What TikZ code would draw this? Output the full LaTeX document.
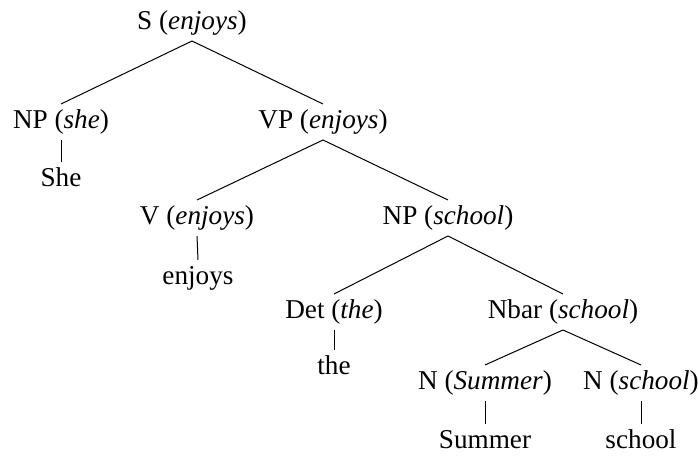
\documentclass[tikz,border=0pt]{standalone}
\usepackage{fontspec}
\setmainfont{Liberation Serif}
\tikzset{
  cat node/.style={inner sep=2pt, text height=10.2pt, text depth=3.4pt,
                   font=\fontsize{13.6}{16}\selectfont},
  word node/.style={cat node},
  branch/.style={line width=0.5pt},
}

\begin{document}
\begin{tikzpicture}[x=0.5pt, y=-0.5pt]
  \useasboundingbox (0,0) rectangle (698,459);
  % categories, with their heads
  \node[cat node] (s) at (192,23) {S (\textit{enjoys})};
  \node[cat node] (np1) at (61,122) {NP (\textit{she})};
  \node[cat node] (vp) at (323,122) {VP (\textit{enjoys})};
  \node[cat node] (v) at (197,218) {V (\textit{enjoys})};
  \node[cat node] (np2) at (448,218) {NP (\textit{school})};
  \node[cat node] (det) at (334,312) {Det (\textit{the})};
  \node[cat node] (nbar) at (563,312) {Nbar (\textit{school})};
  \node[cat node] (n1) at (485,383) {N (\textit{Summer})};
  \node[cat node] (n2) at (641,383) {N (\textit{school})};
  % words
  \node[word node] (w1) at (61,180) {She};
  \node[word node] (w2) at (198,278) {enjoys};
  \node[word node] (w3) at (334,368) {the};
  \node[word node] (w4) at (485,442) {Summer};
  \node[word node] (w5) at (641,442) {school};
  % branches
  \draw[branch] (s.south) -- (np1.north);
  \draw[branch] (s.south) -- (vp.north);
  \draw[branch] (vp.south) -- (v.north);
  \draw[branch] (vp.south) -- (np2.north);
  \draw[branch] (np2.south) -- (det.north);
  \draw[branch] (np2.south) -- (nbar.north);
  \draw[branch] (nbar.south) -- (n1.north);
  \draw[branch] (nbar.south) -- (n2.north);
  \draw[branch] (np1.south) -- (w1.north);
  \draw[branch] (v.south) -- (w2.north);
  \draw[branch] (det.south) -- (w3.north);
  \draw[branch] (n1.south) -- (w4.north);
  \draw[branch] (n2.south) -- (w5.north);
\end{tikzpicture}
\end{document}
